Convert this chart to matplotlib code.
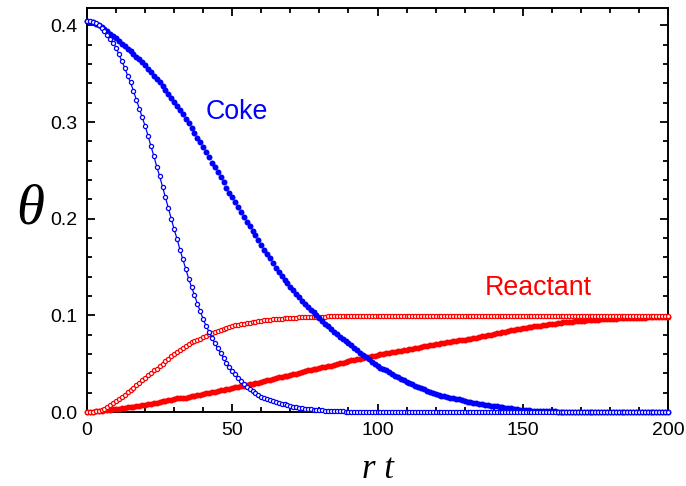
import matplotlib
matplotlib.use("Agg")
import matplotlib.pyplot as plt
from matplotlib.ticker import MultipleLocator
import numpy as np

# Dimensionless time r*t, sampled every 1 unit (0..200)
rt = np.arange(0, 201)

# Coke coverage, slow case (filled dots)
cokeSlow = [
    0.405, 0.404, 0.403, 0.401, 0.400, 0.398, 0.396, 0.394, 0.391, 0.389,
    0.387, 0.384, 0.381, 0.379, 0.376, 0.373, 0.370, 0.367, 0.365, 0.362,
    0.359, 0.355, 0.352, 0.348, 0.345, 0.341, 0.337, 0.333, 0.329, 0.325,
    0.321, 0.317, 0.312, 0.308, 0.303, 0.299, 0.294, 0.289, 0.284, 0.279,
    0.274, 0.269, 0.264, 0.258, 0.253, 0.248, 0.243, 0.238, 0.232, 0.227,
    0.222, 0.217, 0.212, 0.207, 0.202, 0.197, 0.192, 0.187, 0.183, 0.178,
    0.173, 0.168, 0.163, 0.159, 0.154, 0.149, 0.145, 0.141, 0.137, 0.133,
    0.129, 0.126, 0.122, 0.119, 0.115, 0.112, 0.109, 0.106, 0.103, 0.100,
    0.097, 0.094, 0.091, 0.089, 0.086, 0.083, 0.081, 0.078, 0.076, 0.073,
    0.071, 0.069, 0.066, 0.064, 0.061, 0.059, 0.057, 0.055, 0.052, 0.050,
    0.048, 0.046, 0.044, 0.043, 0.041, 0.039, 0.037, 0.036, 0.034, 0.033,
    0.031, 0.030, 0.029, 0.027, 0.026, 0.025, 0.024, 0.022, 0.021, 0.020,
    0.019, 0.018, 0.017, 0.017, 0.016, 0.015, 0.014, 0.013, 0.013, 0.012,
    0.011, 0.010, 0.010, 0.009, 0.009, 0.008, 0.008, 0.007, 0.007, 0.006,
    0.006, 0.006, 0.005, 0.005, 0.004, 0.004, 0.004, 0.003, 0.003, 0.002,
    0.002, 0.002, 0.002, 0.001, 0.001, 0.001, 0.001, 0.001, 0.001, 0.001,
    0.001, 0.001, 0.000, 0.000, 0.000, 0.000, 0.000, 0.000, 0.000, 0.000,
    0.000, 0.000, 0.000, 0.000, 0.000, 0.000, 0.000, 0.000, 0.000, 0.000,
    0.000, 0.000, 0.000, 0.000, 0.000, 0.000, 0.000, 0.000, 0.000, 0.000,
    0.000, 0.000, 0.000, 0.000, 0.000, 0.000, 0.000, 0.000, 0.000, 0.000,
    0.000,
]

# Coke coverage, fast case (open circles)
cokeFast = [
    0.405, 0.405, 0.404, 0.402, 0.400, 0.397, 0.394, 0.390, 0.386, 0.382,
    0.377, 0.370, 0.363, 0.356, 0.348, 0.341, 0.332, 0.323, 0.314, 0.305,
    0.296, 0.286, 0.275, 0.265, 0.254, 0.244, 0.233, 0.222, 0.211, 0.200,
    0.189, 0.179, 0.168, 0.158, 0.148, 0.138, 0.129, 0.121, 0.112, 0.104,
    0.096, 0.089, 0.083, 0.077, 0.071, 0.066, 0.061, 0.056, 0.051, 0.047,
    0.042, 0.039, 0.035, 0.032, 0.029, 0.026, 0.024, 0.022, 0.020, 0.018,
    0.016, 0.015, 0.013, 0.012, 0.011, 0.010, 0.009, 0.008, 0.008, 0.007,
    0.006, 0.005, 0.005, 0.004, 0.004, 0.003, 0.003, 0.003, 0.002, 0.002,
    0.002, 0.002, 0.001, 0.001, 0.001, 0.001, 0.001, 0.001, 0.001, 0.000,
    0.000, 0.000, 0.000, 0.000, 0.000, 0.000, 0.000, 0.000, 0.000, 0.000,
    0.000, 0.000, 0.000, 0.000, 0.000, 0.000, 0.000, 0.000, 0.000, 0.000,
    0.000, 0.000, 0.000, 0.000, 0.000, 0.000, 0.000, 0.000, 0.000, 0.000,
    0.000, 0.000, 0.000, 0.000, 0.000, 0.000, 0.000, 0.000, 0.000, 0.000,
    0.000, 0.000, 0.000, 0.000, 0.000, 0.000, 0.000, 0.000, 0.000, 0.000,
    0.000, 0.000, 0.000, 0.000, 0.000, 0.000, 0.000, 0.000, 0.000, 0.000,
    0.000, 0.000, 0.000, 0.000, 0.000, 0.000, 0.000, 0.000, 0.000, 0.000,
    0.000, 0.000, 0.000, 0.000, 0.000, 0.000, 0.000, 0.000, 0.000, 0.000,
    0.000, 0.000, 0.000, 0.000, 0.000, 0.000, 0.000, 0.000, 0.000, 0.000,
    0.000, 0.000, 0.000, 0.000, 0.000, 0.000, 0.000, 0.000, 0.000, 0.000,
    0.000, 0.000, 0.000, 0.000, 0.000, 0.000, 0.000, 0.000, 0.000, 0.000,
    0.000,
]

# Reactant coverage, fast case (open circles)
reactFast = [
    0.000, 0.000, 0.000, 0.001, 0.001, 0.002, 0.003, 0.005, 0.007, 0.009,
    0.011, 0.013, 0.016, 0.018, 0.021, 0.023, 0.025, 0.028, 0.030, 0.033,
    0.035, 0.038, 0.040, 0.043, 0.045, 0.048, 0.050, 0.053, 0.055, 0.058,
    0.060, 0.062, 0.064, 0.066, 0.068, 0.070, 0.072, 0.073, 0.075, 0.076,
    0.078, 0.079, 0.081, 0.082, 0.083, 0.084, 0.085, 0.086, 0.087, 0.088,
    0.089, 0.090, 0.090, 0.091, 0.091, 0.092, 0.092, 0.093, 0.093, 0.094,
    0.094, 0.095, 0.095, 0.095, 0.096, 0.096, 0.096, 0.096, 0.097, 0.097,
    0.097, 0.097, 0.097, 0.098, 0.098, 0.098, 0.098, 0.098, 0.098, 0.098,
    0.098, 0.098, 0.098, 0.099, 0.099, 0.099, 0.099, 0.099, 0.099, 0.099,
    0.099, 0.099, 0.099, 0.099, 0.099, 0.099, 0.099, 0.099, 0.099, 0.099,
    0.099, 0.099, 0.099, 0.099, 0.099, 0.099, 0.099, 0.099, 0.099, 0.099,
    0.099, 0.099, 0.099, 0.099, 0.099, 0.099, 0.099, 0.099, 0.099, 0.099,
    0.099, 0.099, 0.099, 0.099, 0.099, 0.099, 0.099, 0.099, 0.099, 0.099,
    0.099, 0.099, 0.099, 0.099, 0.099, 0.099, 0.099, 0.099, 0.099, 0.099,
    0.099, 0.099, 0.099, 0.099, 0.099, 0.099, 0.099, 0.099, 0.099, 0.099,
    0.099, 0.099, 0.099, 0.099, 0.099, 0.099, 0.099, 0.099, 0.099, 0.099,
    0.099, 0.099, 0.099, 0.099, 0.099, 0.099, 0.099, 0.099, 0.099, 0.099,
    0.099, 0.099, 0.099, 0.099, 0.099, 0.099, 0.099, 0.099, 0.099, 0.099,
    0.099, 0.099, 0.099, 0.099, 0.099, 0.099, 0.099, 0.099, 0.099, 0.099,
    0.099, 0.099, 0.099, 0.099, 0.099, 0.099, 0.099, 0.099, 0.099, 0.099,
    0.099,
]

# Reactant coverage, slow case (filled dots)
reactSlow = [
    0.000, 0.000, 0.000, 0.001, 0.001, 0.001, 0.002, 0.002, 0.002, 0.003,
    0.003, 0.003, 0.004, 0.004, 0.005, 0.005, 0.005, 0.006, 0.006, 0.007,
    0.007, 0.008, 0.008, 0.009, 0.009, 0.010, 0.011, 0.011, 0.012, 0.012,
    0.013, 0.014, 0.014, 0.015, 0.015, 0.016, 0.017, 0.017, 0.018, 0.018,
    0.019, 0.020, 0.020, 0.021, 0.021, 0.022, 0.023, 0.023, 0.024, 0.024,
    0.025, 0.026, 0.026, 0.027, 0.027, 0.028, 0.029, 0.029, 0.030, 0.030,
    0.031, 0.032, 0.033, 0.033, 0.034, 0.035, 0.036, 0.036, 0.037, 0.037,
    0.038, 0.039, 0.039, 0.040, 0.041, 0.042, 0.043, 0.043, 0.044, 0.045,
    0.046, 0.047, 0.047, 0.048, 0.048, 0.049, 0.050, 0.051, 0.051, 0.052,
    0.053, 0.054, 0.054, 0.055, 0.055, 0.056, 0.057, 0.057, 0.058, 0.058,
    0.059, 0.060, 0.060, 0.061, 0.061, 0.062, 0.062, 0.063, 0.063, 0.064,
    0.064, 0.065, 0.065, 0.066, 0.066, 0.067, 0.068, 0.068, 0.069, 0.069,
    0.070, 0.070, 0.071, 0.071, 0.072, 0.072, 0.073, 0.073, 0.074, 0.074,
    0.075, 0.076, 0.076, 0.077, 0.077, 0.078, 0.079, 0.079, 0.080, 0.080,
    0.081, 0.082, 0.082, 0.083, 0.083, 0.084, 0.085, 0.085, 0.086, 0.086,
    0.087, 0.087, 0.088, 0.088, 0.089, 0.089, 0.089, 0.090, 0.090, 0.091,
    0.091, 0.091, 0.092, 0.092, 0.093, 0.093, 0.093, 0.093, 0.094, 0.094,
    0.094, 0.094, 0.095, 0.095, 0.095, 0.095, 0.095, 0.096, 0.096, 0.096,
    0.096, 0.096, 0.096, 0.097, 0.097, 0.097, 0.097, 0.097, 0.097, 0.097,
    0.097, 0.097, 0.097, 0.098, 0.098, 0.098, 0.098, 0.098, 0.098, 0.098,
    0.098,
]

BLUE = "#0000ff"
RED = "#ff0000"

plt.rcParams["font.family"] = ["Liberation Sans", "DejaVu Sans"]

fig = plt.figure(figsize=(6.86, 4.86), dpi=100)
ax = fig.add_axes([87 / 686, 1 - 412 / 486, 581 / 686, 404 / 486])

# Red first so the blue curves sit on top where they cross
ax.plot(rt, reactSlow, linestyle="none", marker="o", ms=4.3, mew=0,
        color=RED, clip_on=False, zorder=3)
ax.plot(rt, reactFast, linestyle="-", lw=0.9, marker="o", ms=3.0, mew=0.9,
        mfc="white", color=RED, clip_on=False, zorder=3)
ax.plot(rt, cokeSlow, linestyle="none", marker="o", ms=4.3, mew=0,
        color=BLUE, clip_on=False, zorder=4)
ax.plot(rt, cokeFast, linestyle="-", lw=0.9, marker="o", ms=3.0, mew=0.9,
        mfc="white", color=BLUE, clip_on=False, zorder=4)

ax.set_xlim(0, 200)
ax.set_ylim(0, 0.418)
ax.xaxis.set_major_locator(MultipleLocator(50))
ax.xaxis.set_minor_locator(MultipleLocator(10))
ax.yaxis.set_major_locator(MultipleLocator(0.1))
ax.yaxis.set_minor_locator(MultipleLocator(0.02))
ax.yaxis.set_major_formatter(plt.FuncFormatter(lambda v, p: "%.1f" % v))

ax.tick_params(which="both", direction="in", top=True, right=True,
               width=1.3, labelsize=14)
ax.tick_params(which="major", length=6)
ax.tick_params(which="minor", length=3.5)
ax.tick_params(axis="x", pad=7)
ax.tick_params(axis="y", pad=7)
for spine in ax.spines.values():
    spine.set_linewidth(1.4)

ax.text(41, 0.3027, "Coke", color=BLUE, fontsize=19.3, ha="left", va="baseline")
ax.text(137, 0.121, "Reactant", color=RED, fontsize=19.3, ha="left", va="baseline")

# Axis titles in italic serif, placed in figure pixels
fig.text(377.5 / 686, 1 - 478 / 486, "r t", family="Liberation Serif",
         style="italic", fontsize=25, ha="center", va="baseline")
fig.text(30 / 686, 1 - 209 / 486, "\u03b8", family="Liberation Serif",
         style="italic", fontsize=41, ha="center", va="center")

fig.savefig("out.png", dpi=100)
